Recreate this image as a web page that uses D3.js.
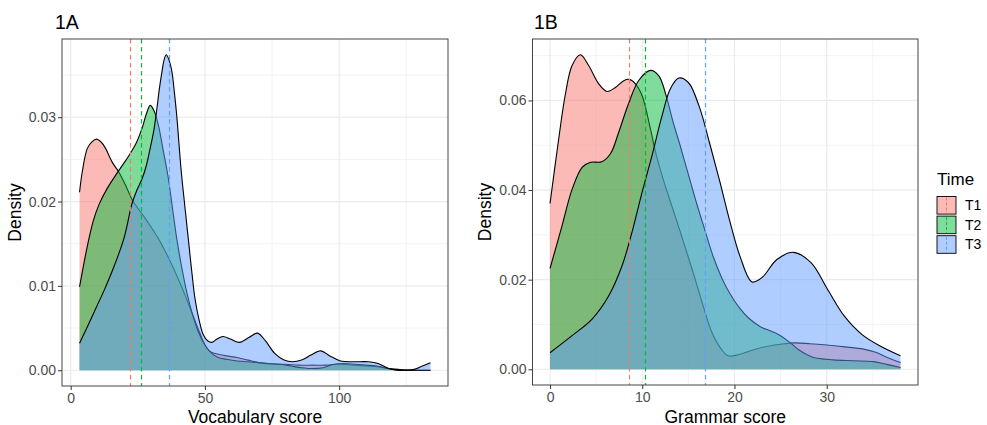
<!DOCTYPE html>
<html>
<head>
<meta charset="utf-8">
<script src="https://cdn.jsdelivr.net/npm/d3@7"></script>
<style>
  body { margin: 0; background: #fff; }
  text { font-family: "Liberation Sans", Arial, sans-serif; }
</style>
</head>
<body>
<script>
// groups and their ggplot colours
var times = ["T1", "T2", "T3"];
var colours = ["#F8766D", "#00BA38", "#619CFF"];

// 1A - vocabulary score densities, [score, density]
var vocabT1 = [[3.3,0.0211],[4.3,0.0235],[6.2,0.0263],[8,0.0271],[9.6,0.0274],[11.5,0.0270],[13,0.0263],
  [15.4,0.0247],[17.9,0.0235],[20.5,0.0219],[22.9,0.0202],[25.5,0.0190],[27.8,0.0180],[30.5,0.0167],
  [32.7,0.0156],[35.2,0.0141],[37.7,0.0125],[40.2,0.0107],[42.6,0.0089],[45,0.0069],[47.5,0.0049],
  [50,0.0030],[52,0.0022],[55,0.0019],[58,0.0017],[62,0.0015],[66,0.0012],[70,0.0009],[75,0.0007],
  [80,0.0007],[85,0.0006],[90,0.0006],[95,0.0006],[100,0.0007],[105,0.0006],[110,0.0005],[115,0.0004],
  [120,0.0001],[125,0],[130,0],[134,0]];
var vocabT2 = [[3.3,0.0099],[5,0.0128],[6.8,0.0156],[8.5,0.0178],[10.5,0.0196],[13.5,0.0215],[16.7,0.0231],
  [19.5,0.0244],[22.2,0.0257],[24.5,0.0270],[26.6,0.0287],[28.3,0.0305],[29.6,0.0314],[31,0.0308],
  [32.7,0.0290],[34.5,0.0260],[36.4,0.0227],[38,0.0190],[39.5,0.0156],[41.3,0.0123],[43.2,0.0093],
  [45.3,0.0067],[47.5,0.0046],[50,0.0030],[52.5,0.0020],[55,0.0015],[58,0.0013],[62,0.0011],[66,0.0010],
  [70,0.0009],[74,0.0008],[78,0.0007],[82,0.0005],[86,0.0003],[90,0.0002],[94,0.0003],[98,0.0007],
  [102,0.0008],[106,0.0007],[110,0.0006],[114,0.0005],[118,0.0002],[122,0.0001],[126,0],[130,0],[134,0]];
var vocabT3 = [[3.3,0.0032],[6,0.0050],[9.3,0.0073],[12.5,0.0095],[15.4,0.0117],[17.8,0.0137],[19.8,0.0156],
  [21.3,0.0176],[22.7,0.0196],[24.6,0.0213],[26.6,0.0227],[28.2,0.0243],[29.6,0.0263],[31,0.0285],
  [32.1,0.0310],[33,0.0333],[34,0.0354],[34.8,0.0368],[35.6,0.0374],[36.6,0.0368],[37.7,0.0354],
  [38.6,0.0330],[39.5,0.0302],[40.3,0.0270],[41.2,0.0235],[42.5,0.0195],[43.8,0.0156],[45,0.0120],
  [46.3,0.0085],[47.8,0.0060],[49.4,0.0042],[51,0.0035],[52.5,0.0033],[54.5,0.0037],[56.7,0.0040],
  [59.5,0.0037],[62.9,0.0033],[66.5,0.0039],[69.6,0.0044],[72.5,0.0035],[76,0.0020],[79.5,0.0012],
  [82.6,0.0010],[86,0.0012],[89.5,0.0018],[93.1,0.0023],[96.5,0.0017],[100.5,0.0011],[105,0.0010],
  [111,0.0010],[114.5,0.0008],[118.4,0.0002],[121.5,0],[124.6,0],[128,0.0001],[131,0.0005],[134,0.0009]];
var vocabMeans = [22.0, 26.2, 36.8];
var vocabXTicks = [0, 50, 100];
var vocabYTicks = [0, 0.01, 0.02, 0.03];

// 1B - grammar score densities
var grammarT1 = [[0,0.0370],[0.94,0.0514],[1.64,0.0611],[2.39,0.0678],[3.29,0.0702],[4.19,0.0678],[5.28,0.0637],
  [6.18,0.0620],[7.09,0.0629],[7.99,0.0644],[8.6,0.0647],[9.26,0.0637],[9.98,0.0611],[10.85,0.0540],
  [11.5,0.0480],[12.3,0.0422],[13.2,0.0365],[14.1,0.0308],[15,0.0250],[15.9,0.0190],[16.7,0.0135],
  [17.5,0.0085],[18.4,0.0050],[19.3,0.0030],[20.5,0.0033],[22,0.0043],[23.5,0.0051],[25,0.0056],
  [26.5,0.0059],[28.2,0.0057],[30,0.0054],[32,0.0050],[34,0.0045],[35.3,0.0038],[36.5,0.0027],[38,0.0015]];
var grammarT2 = [[0,0.0225],[1.3,0.0320],[2.4,0.0402],[3.5,0.0451],[4.4,0.0462],[5.6,0.0463],[6.55,0.0481],
  [7.45,0.0529],[8.5,0.0592],[9.6,0.0644],[10.9,0.0667],[11.8,0.0655],[12.6,0.0610],[13.3,0.0555],
  [14.1,0.0500],[15,0.0435],[15.9,0.0370],[16.8,0.0310],[17.7,0.0251],[18.6,0.0205],[19.5,0.0169],
  [20.5,0.0138],[21.5,0.0115],[22.8,0.0095],[24,0.0085],[25,0.0075],[26,0.0060],[27,0.0043],
  [28.5,0.0027],[30.7,0.0021],[32.9,0.0019],[35.1,0.0017],[36.5,0.0011],[38,0.0004]];
var grammarT3 = [[0,0.0037],[2.39,0.0075],[4.56,0.0112],[6.37,0.0164],[7.81,0.0231],[8.89,0.0306],[9.98,0.0395],
  [11.06,0.0477],[12.15,0.0566],[13.05,0.0626],[13.96,0.0650],[15,0.0640],[16.2,0.0585],[17.3,0.0505],
  [18.4,0.0420],[19.5,0.0330],[20.6,0.0252],[21.9,0.0195],[23,0.0205],[24.6,0.0245],[26.4,0.0261],
  [28.3,0.0238],[30.1,0.0178],[31.9,0.0119],[33.8,0.0078],[35.8,0.0052],[38,0.0030]];
var grammarMeans = [8.6, 10.3, 16.85];
var grammarXTicks = [0, 10, 20, 30];
var grammarYTicks = [0, 0.02, 0.04, 0.06];

var svg = d3.select("body").append("svg")
    .attr("width", 987)
    .attr("height", 425);

// minor gridlines sit halfway between the majors
function minors(ticks, dom) {
    var step = ticks[1] - ticks[0], out = [];
    for (var v = ticks[0] - step / 2; v <= dom[1]; v += step) {
        if (v >= dom[0]) out.push(v);
    }
    return out;
}

function drawPanel(cfg) {
    var g = svg.append("g");
    var all = cfg.series.flat();
    var xExt = d3.extent(all, d => d[0]);
    var yMax = d3.max(all, d => d[1]);
    var xPad = (xExt[1] - xExt[0]) * 0.05, yPad = yMax * 0.05;

    var x = d3.scaleLinear()
        .domain([xExt[0] - xPad, xExt[1] + xPad])
        .range([cfg.left, cfg.right]);
    var y = d3.scaleLinear()
        .domain([-yPad, yMax + yPad])
        .range([cfg.bottom, cfg.top]);

    // grid
    g.selectAll(".xminor").data(minors(cfg.xTicks, x.domain())).enter().append("line")
        .attr("x1", d => x(d)).attr("x2", d => x(d))
        .attr("y1", cfg.top).attr("y2", cfg.bottom)
        .attr("stroke", "#ebebeb").attr("stroke-width", 0.6);
    g.selectAll(".yminor").data(minors(cfg.yTicks, y.domain())).enter().append("line")
        .attr("x1", cfg.left).attr("x2", cfg.right)
        .attr("y1", d => y(d)).attr("y2", d => y(d))
        .attr("stroke", "#ebebeb").attr("stroke-width", 0.6);
    g.selectAll(".xmajor").data(cfg.xTicks).enter().append("line")
        .attr("x1", d => x(d)).attr("x2", d => x(d))
        .attr("y1", cfg.top).attr("y2", cfg.bottom)
        .attr("stroke", "#ebebeb").attr("stroke-width", 1.2);
    g.selectAll(".ymajor").data(cfg.yTicks).enter().append("line")
        .attr("x1", cfg.left).attr("x2", cfg.right)
        .attr("y1", d => y(d)).attr("y2", d => y(d))
        .attr("stroke", "#ebebeb").attr("stroke-width", 1.2);

    // densities, each group fill then its outline
    var area = d3.area()
        .x(d => x(d[0]))
        .y0(y(0))
        .y1(d => y(d[1]))
        .curve(d3.curveCatmullRom.alpha(0.5));
    var line = d3.line()
        .x(d => x(d[0]))
        .y(d => y(d[1]))
        .curve(d3.curveCatmullRom.alpha(0.5));

    cfg.series.forEach(function (s, i) {
        g.append("path")
            .datum(s)
            .attr("d", area)
            .attr("fill", colours[i])
            .attr("fill-opacity", 0.5);
        g.append("path")
            .datum(s)
            .attr("d", line)
            .attr("fill", "none")
            .attr("stroke", "#000")
            .attr("stroke-width", 1.1);
    });

    // group means (snapped to the pixel grid so the dashes stay crisp)
    g.selectAll(".mean").data(cfg.means).enter().append("line")
        .attr("x1", d => Math.round(x(d)) + 0.5).attr("x2", d => Math.round(x(d)) + 0.5)
        .attr("y1", cfg.top).attr("y2", cfg.bottom)
        .attr("stroke", (d, i) => colours[i])
        .attr("stroke-width", 1.2)
        .attr("stroke-dasharray", "4.5,3.5");

    // panel border
    g.append("rect")
        .attr("x", cfg.left).attr("y", cfg.top)
        .attr("width", cfg.right - cfg.left)
        .attr("height", cfg.bottom - cfg.top)
        .attr("fill", "none")
        .attr("stroke", "#444")
        .attr("stroke-width", 1);

    // axes
    var xAxis = g.append("g")
        .attr("transform", "translate(0," + cfg.bottom + ")")
        .call(d3.axisBottom(x).tickValues(cfg.xTicks).tickSize(4).tickPadding(3));
    var yAxis = g.append("g")
        .attr("transform", "translate(" + cfg.left + ",0)")
        .call(d3.axisLeft(y).tickValues(cfg.yTicks).tickSize(4).tickPadding(2).tickFormat(d3.format(".2f")));
    [xAxis, yAxis].forEach(function (a) {
        a.select(".domain").remove();
        a.selectAll("line").attr("stroke", "#333");
        a.selectAll("text")
            .attr("fill", "#4d4d4d")
            .style("font-size", "14px")
            .style("font-family", '"Liberation Sans", Arial, sans-serif');
    });

    // axis titles
    g.append("text")
        .attr("x", (cfg.left + cfg.right) / 2)
        .attr("y", 422.5)
        .attr("text-anchor", "middle")
        .style("font-size", "17.5px")
        .text(cfg.xLabel);
    g.append("text")
        .attr("transform", "translate(" + cfg.yLabelX + "," + ((cfg.top + cfg.bottom) / 2) + ") rotate(-90)")
        .attr("text-anchor", "middle")
        .style("font-size", "17.5px")
        .text("Density");

    // panel tag
    g.append("text")
        .attr("x", cfg.titleX)
        .attr("y", 29)
        .style("font-size", "19.5px")
        .text(cfg.title);
}

drawPanel({
    title: "1A", titleX: 55,
    series: [vocabT1, vocabT2, vocabT3],
    means: vocabMeans,
    xTicks: vocabXTicks, yTicks: vocabYTicks,
    left: 62, right: 448, top: 39, bottom: 386,
    xLabel: "Vocabulary score", yLabelX: 21
});

drawPanel({
    title: "1B", titleX: 534,
    series: [grammarT1, grammarT2, grammarT3],
    means: grammarMeans,
    xTicks: grammarXTicks, yTicks: grammarYTicks,
    left: 532.5, right: 918, top: 39, bottom: 385,
    xLabel: "Grammar score", yLabelX: 491
});

// legend
var legend = svg.append("g");
legend.append("text")
    .attr("x", 937)
    .attr("y", 185)
    .style("font-size", "17px")
    .text("Time");
times.forEach(function (t, i) {
    var top = 196.5 + i * 19.6;
    legend.append("rect")
        .attr("x", 937).attr("y", top)
        .attr("width", 19).attr("height", 17.6)
        .attr("fill", colours[i]).attr("fill-opacity", 0.5)
        .attr("stroke", "#000").attr("stroke-width", 0.9);
    legend.append("line")
        .attr("x1", 946.5).attr("x2", 946.5)
        .attr("y1", top + 1).attr("y2", top + 16.6)
        .attr("stroke", colours[i])
        .attr("stroke-width", 1)
        .attr("stroke-dasharray", "3,2");
    legend.append("text")
        .attr("x", 965)
        .attr("y", top + 13.5)
        .style("font-size", "14px")
        .text(t);
});
</script>
</body>
</html>
